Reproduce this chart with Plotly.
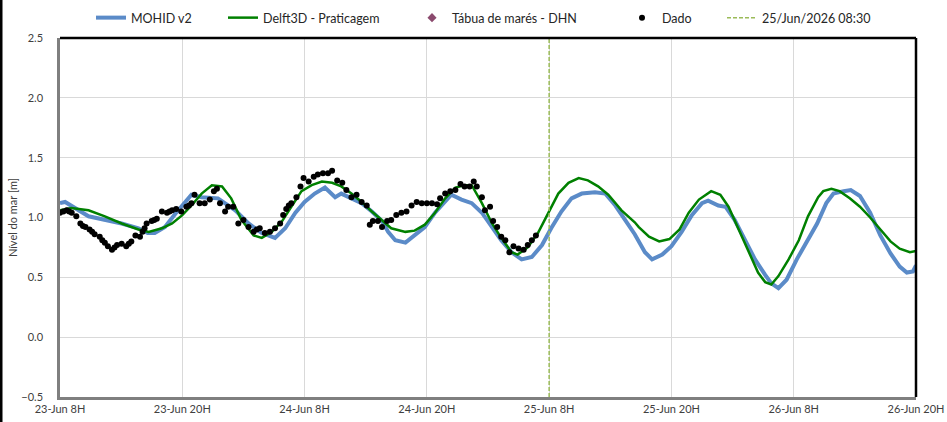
import pandas as pd
import plotly.graph_objects as go

START = pd.Timestamp('2026-06-23 08:00')

# MOHID v2 (hours after 23-Jun 08:00, level in m)
mohid_h = [0, 0.5, 2.8, 4.4, 6.05, 7.7, 8.6, 9.3, 10.3, 11.3, 11.9, 12.9, 13.9, 15.5, 17.2, 18.5,
           19.8, 21.1, 22.1, 23.1, 24.0, 25.0, 26.0, 27.0, 27.6, 28.6, 29.6, 30.6, 31.6, 32.2, 32.9,
           33.9, 34.8, 35.8, 36.8, 38.4, 39.4, 40.4, 41.4, 42.4, 43.3, 44.3, 45.3, 46.3, 47.3, 48.2,
           49.2, 50.2, 51.2, 52.5, 53.5, 54.5, 55.4, 56.4, 57.4, 58.1, 59.1, 60.0, 61.0, 62.0, 63.0,
           63.6, 64.6, 65.3, 66.2, 67.2, 68.2, 69.2, 69.8, 70.5, 71.3, 72.3, 73.3, 74.3, 75.2, 75.9,
           76.9, 77.6, 78.5, 79.5, 80.5, 81.5, 82.4, 83.1, 83.7, 84.0]
mohid_v = [1.12, 1.13, 1.01, 0.98, 0.95, 0.91, 0.87, 0.87, 0.92, 1.03, 1.09, 1.19, 1.17, 1.16, 1.06, 0.95,
           0.87, 0.83, 0.91, 1.04, 1.13, 1.20, 1.25, 1.17, 1.20, 1.16, 1.12, 1.05, 0.97, 0.88, 0.81,
           0.79, 0.85, 0.92, 1.04, 1.19, 1.15, 1.12, 1.04, 0.92, 0.81, 0.71, 0.65, 0.67, 0.77, 0.91,
           1.05, 1.16, 1.20, 1.21, 1.20, 1.10, 0.98, 0.86, 0.71, 0.65, 0.69, 0.76, 0.88, 1.02, 1.12,
           1.14, 1.10, 1.09, 0.98, 0.81, 0.65, 0.52, 0.45, 0.41, 0.48, 0.65, 0.80, 0.95, 1.12, 1.20,
           1.22, 1.23, 1.18, 1.04, 0.85, 0.70, 0.59, 0.54, 0.55, 0.60]

# Delft3D - Praticagem
delft_h = [0, 1.1, 2.8, 4.4, 6.05, 7.7, 8.7, 10.0, 11.0, 12.0, 12.9, 13.9, 14.9, 15.9, 16.8, 17.8,
           19.0, 19.8, 20.8, 21.8, 22.7, 23.7, 24.7, 25.7, 26.7, 27.6, 28.6, 29.6, 30.6, 31.6, 32.5,
           33.9, 34.8, 35.8, 36.8, 37.8, 38.8, 39.7, 40.4, 41.4, 42.4, 43.3, 44.3, 44.9, 45.9, 46.9,
           47.9, 48.9, 49.9, 50.9, 51.8, 52.8, 53.8, 55.1, 56.4, 56.8, 57.8, 58.8, 59.8, 60.8, 61.7,
           62.7, 63.9, 64.8, 65.6, 66.6, 67.6, 68.5, 69.2, 69.8, 70.5, 71.5, 72.5, 73.4, 74.4, 74.9,
           75.7, 76.5, 77.5, 78.5, 79.5, 80.5, 81.5, 82.4, 83.4, 84.0]
delft_v = [1.06, 1.08, 1.06, 1.01, 0.95, 0.90, 0.88, 0.91, 0.95, 1.02, 1.10, 1.20, 1.27, 1.26, 1.16, 0.98,
           0.85, 0.83, 0.88, 0.97, 1.09, 1.22, 1.27, 1.30, 1.29, 1.26, 1.20, 1.13, 1.05, 0.98, 0.91,
           0.88, 0.89, 0.94, 1.04, 1.16, 1.25, 1.27, 1.27, 1.12, 0.95, 0.83, 0.71, 0.69, 0.75, 0.87,
           1.04, 1.20, 1.29, 1.33, 1.31, 1.26, 1.19, 1.06, 0.96, 0.92, 0.84, 0.80, 0.82, 0.90, 1.04,
           1.15, 1.22, 1.19, 1.09, 0.90, 0.70, 0.54, 0.46, 0.44, 0.51, 0.65, 0.81, 1.01, 1.17, 1.22,
           1.24, 1.22, 1.16, 1.09, 1.00, 0.90, 0.80, 0.74, 0.71, 0.72]

# Dado (observations)
dado_h = [0, 0.33, 0.66, 0.9, 1.15, 1.6, 2.0, 2.25, 2.5, 2.9, 3.15, 3.4, 3.9, 4.15, 4.4, 4.7, 5.1, 5.35,
          5.6, 6.05, 6.5, 6.75, 7.0, 7.4, 7.85, 8.1, 8.3, 8.5, 9.0, 9.25, 9.5, 10.0, 10.5, 10.75, 11.0,
          11.4, 11.9, 12.4, 12.65, 12.9, 13.2, 13.7, 14.2, 14.7, 15.1, 15.4, 15.7, 16.2, 16.5, 17.0,
          17.5, 18.0, 18.5, 19.0, 19.3, 19.6, 20.1, 20.6, 21.1, 21.6, 21.9, 22.2, 22.45, 22.7, 23.2,
          23.6, 23.9, 24.4, 24.9, 25.3, 25.8, 26.3, 26.7, 27.2, 27.7, 28.1, 28.6, 29.1, 29.6, 30.1,
          30.4, 30.7, 31.2, 31.6, 32.1, 32.5, 33.0, 33.5, 34.0, 34.5, 35.0, 35.5, 36.0, 36.5, 37.0,
          37.3, 37.8, 38.3, 38.8, 39.3, 39.7, 40.2, 40.6, 40.9, 41.4, 41.7, 42.2, 42.5, 42.9, 43.3,
          43.7, 44.1, 44.5, 45.0, 45.5, 45.9, 46.3, 46.7]
dado_v = [1.04, 1.05, 1.06, 1.05, 1.04, 1.01, 0.95, 0.93, 0.92, 0.90, 0.88, 0.86, 0.84, 0.81, 0.79, 0.76,
          0.73, 0.75, 0.77, 0.78, 0.76, 0.78, 0.80, 0.85, 0.84, 0.88, 0.91, 0.95, 0.97, 0.98, 0.99, 1.05,
          1.04, 1.05, 1.06, 1.07, 1.05, 1.09, 1.10, 1.12, 1.19, 1.12, 1.12, 1.15, 1.22, 1.24, 1.12, 1.05,
          1.09, 1.09, 0.95, 0.98, 0.92, 0.88, 0.90, 0.91, 0.87, 0.88, 0.91, 0.95, 1.02, 1.07, 1.10, 1.12,
          1.17, 1.26, 1.33, 1.30, 1.34, 1.36, 1.37, 1.37, 1.39, 1.31, 1.29, 1.23, 1.17, 1.19, 1.13, 1.10,
          0.94, 0.97, 0.97, 0.92, 0.97, 0.98, 1.02, 1.04, 1.05, 1.10, 1.13, 1.12, 1.12, 1.12, 1.11, 1.16,
          1.20, 1.22, 1.23, 1.28, 1.26, 1.26, 1.30, 1.26, 1.17, 1.06, 1.09, 0.97, 0.92, 0.84, 0.81, 0.71,
          0.76, 0.74, 0.73, 0.77, 0.81, 0.85]

now_time = pd.Timestamp('2026-06-25 08:00')
tick_hours = [0, 12, 24, 36, 48, 60, 72, 84]
tick_text = ['23-Jun 8H', '23-Jun 20H', '24-Jun 8H', '24-Jun 20H',
             '25-Jun 8H', '25-Jun 20H', '26-Jun 8H', '26-Jun 20H']

# pixel where each legend entry starts (from the reference)
legend_px = [91, 223, 412, 622, 722]


def to_time(hours):
    return [START + pd.Timedelta(hours=h) for h in hours]


fig = go.Figure()
fig.add_trace(go.Scatter(x=to_time(mohid_h), y=mohid_v, mode='lines', name='MOHID v2',
                         line=dict(color='#5b8bc8', width=4), legend='legend'))
fig.add_trace(go.Scatter(x=to_time(delft_h), y=delft_v, mode='lines', name='Delft3D - Praticagem',
                         line=dict(color='#008000', width=2.5), legend='legend2'))
fig.add_trace(go.Scatter(x=[None], y=[None], mode='markers', name='Tábua de marés - DHN',
                         marker=dict(symbol='diamond', color='#8b4a6e', size=7), legend='legend3'))
fig.add_trace(go.Scatter(x=to_time(dado_h), y=dado_v, mode='markers', name='Dado',
                         marker=dict(color='black', size=6), legend='legend4'))
fig.add_trace(go.Scatter(x=[now_time, now_time], y=[-0.5, 2.5], mode='lines',
                         name='25/Jun/2026 08:30',
                         line=dict(color='#9bbb59', width=1.5, dash='4px,2px'), legend='legend5'))

font = 'Lato, Open Sans, sans-serif'
PLOT_L, PLOT_W, PLOT_T, PLOT_H = 60, 856, 38, 359
legend_style = dict(orientation='h', y=(PLOT_H + PLOT_T - 18) / PLOT_H, yanchor='middle',
                    xanchor='left', font=dict(size=12.5, color='#262626'),
                    bgcolor='rgba(0,0,0,0)')
legends = {}
for i, px_left in enumerate(legend_px):
    key = 'legend' if i == 0 else f'legend{i + 1}'
    legends[key] = dict(legend_style, x=(px_left - PLOT_L) / PLOT_W)

fig.update_layout(
    width=947, height=422,
    margin=dict(l=PLOT_L, r=947 - PLOT_L - PLOT_W, t=PLOT_T, b=422 - PLOT_T - PLOT_H,
                autoexpand=False),
    plot_bgcolor='white', paper_bgcolor='white',
    font=dict(family=font, size=11, color='#404040'),
    showlegend=True,
    xaxis=dict(range=[START, START + pd.Timedelta(hours=84)],
               tickvals=to_time(tick_hours), ticktext=tick_text,
               showgrid=True, gridcolor='#d9d9d9', gridwidth=1,
               showline=True, linecolor='#7f7f7f', linewidth=2.5,
               ticks='', tickfont=dict(size=11, color='#404040')),
    yaxis=dict(range=[-0.5, 2.5], dtick=0.5, tickformat='.1f',
               showgrid=True, gridcolor='#d9d9d9', gridwidth=1,
               showline=True, linecolor='#7f7f7f', linewidth=2.5, zeroline=False,
               ticks='', ticklabelstandoff=12, tickfont=dict(size=11, color='#404040'),
               title=dict(text='Nível do mar [m]', font=dict(size=11, color='#404040'),
                          standoff=2)),
    **legends,
)

# black top/right plot frame and the cut chart border on the left edge
fig.add_shape(type='line', xref='paper', yref='paper', x0=0, x1=1, y0=1, y1=1,
              line=dict(color='black', width=2.5))
fig.add_shape(type='line', xref='paper', yref='paper', x0=1, x1=1, y0=0, y1=1,
              line=dict(color='black', width=2.5))
fig.add_shape(type='line', xref='paper', yref='paper', x0=-59 / PLOT_W, x1=-59 / PLOT_W,
              y0=-0.2, y1=1.2, line=dict(color='black', width=3))

# the page's default body margin would shift the chart by 8px
fig.write_html('out.html', config={'displayModeBar': False},
               post_script="document.body.style.margin='0';")
